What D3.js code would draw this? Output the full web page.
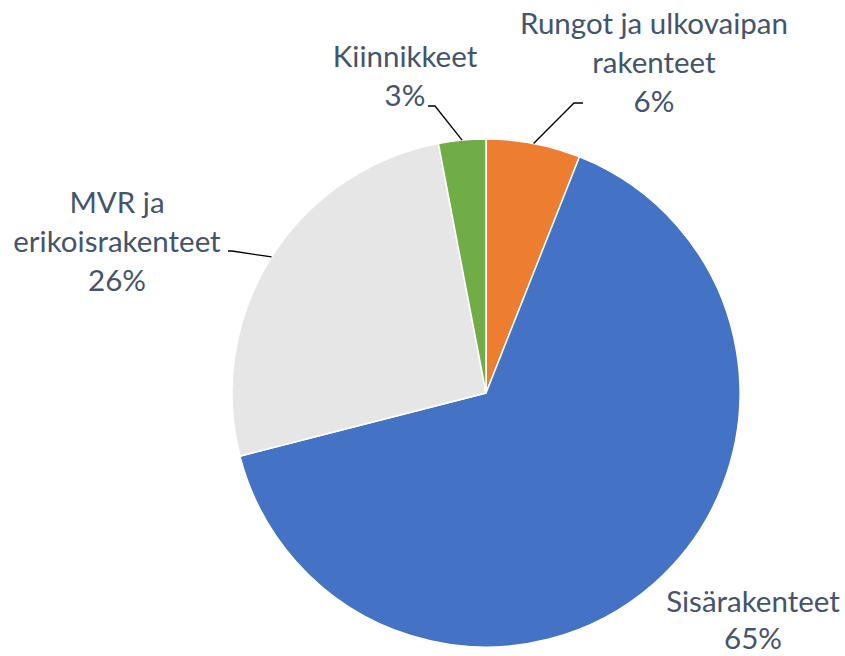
<!DOCTYPE html>
<html lang="fi">
<head>
<meta charset="utf-8">
<script src="https://d3js.org/d3.v7.min.js"></script>
<style>
	body { margin: 0; background: #fff; }
	svg { display: block; }
	.label {
		font-family: Lato, 'Open Sans', sans-serif;
		font-size: 29.5px;
		fill: #44546a;
		text-anchor: middle;
	}
	.leader { fill: none; stroke: #000; stroke-width: 1.3px; }
</style>
</head>
<body>
<div id="chart"></div>
<script>

var width = 845, height = 656;

// slices, clockwise from 12 o'clock
var categories = ["Rungot ja ulkovaipan rakenteet", "Sisärakenteet", "MVR ja erikoisrakenteet", "Kiinnikkeet"];
var values = [6, 65, 26, 3];
var labelLines = [
	["Rungot ja ulkovaipan", "rakenteet", "6%"],
	["Sisärakenteet", "65%"],
	["MVR ja", "erikoisrakenteet", "26%"],
	["Kiinnikkeet", "3%"]
];
var colors = ["#ed7d31", "#4472c4", "#e7e6e6", "#70ad47"];

// label placement (text centre x, first baseline y) and leader elbows
var layout = [
	{x: 654, y: 34, elbow: [[574, 103], [583, 103]]},
	{x: 753, y: 612, elbow: null},
	{x: 117, y: 213, elbow: [[232, 251], [228, 251]]},
	{x: 405, y: 67, elbow: [[435, 106], [428, 106]]}
];
var lineHeight = 39;

var cx = 486, cy = 393, radius = 254;

var svg = d3.select("#chart").append("svg")
	.attr("width", width)
	.attr("height", height);

var pie = d3.pie().sort(null).value(function(d) { return d; });
var arcs = pie(values);

var arc = d3.arc().innerRadius(0).outerRadius(radius);

var g = svg.append("g").attr("transform", "translate(" + cx + "," + cy + ")");

g.selectAll(".slice")
	.data(arcs)
	.enter()
	.append("path")
	.attr("class", "slice")
	.attr("d", arc)
	.style("fill", function(d, i) { return colors[i]; })
	.style("stroke", "#fff")
	.style("stroke-width", 1.5);

// leader lines start at the outer edge, mid angle of the slice
arcs.forEach(function(d, i) {
	var l = layout[i];
	if (!l.elbow) return;
	var a = (d.startAngle + d.endAngle) / 2;
	var start = [cx + Math.sin(a) * radius, cy - Math.cos(a) * radius];
	svg.append("path")
		.attr("class", "leader")
		.attr("d", d3.line()([start].concat(l.elbow)));
});

var labels = svg.selectAll(".label")
	.data(arcs)
	.enter()
	.append("text")
	.attr("class", "label")
	.attr("x", function(d, i) { return layout[i].x; })
	.attr("y", function(d, i) { return layout[i].y; });

labels.each(function(d, i) {
	var t = d3.select(this);
	labelLines[i].forEach(function(line, k) {
		t.append("tspan")
			.attr("x", layout[i].x)
			.attr("dy", k === 0 ? 0 : (i === 1 ? 37 : lineHeight))
			.text(line);
	});
});

</script>
</body>
</html>
